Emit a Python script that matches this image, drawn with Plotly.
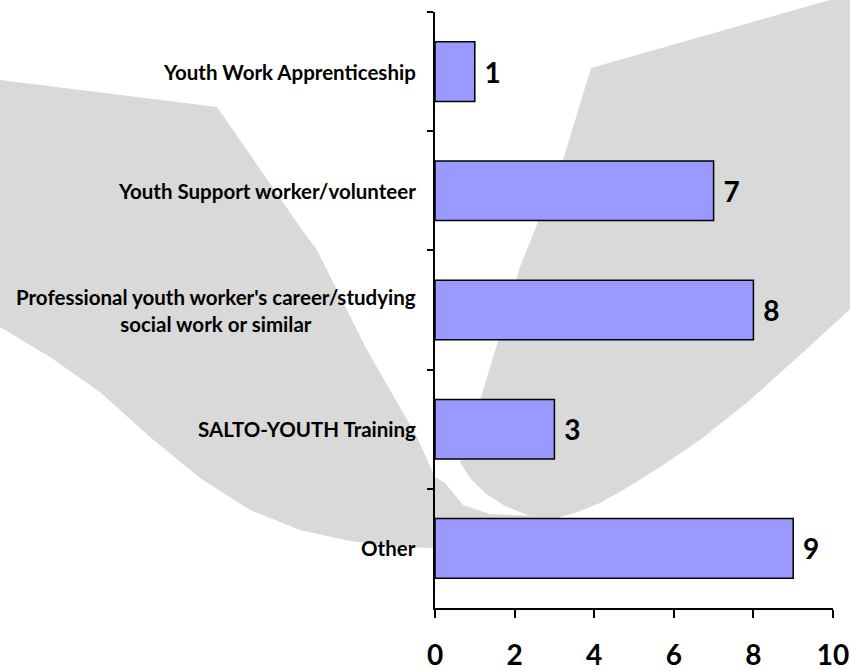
import plotly.graph_objects as go

# ---- data ----
categories = [
    "Youth Work Apprenticeship",
    "Youth Support worker/volunteer",
    "Professional youth worker's career/studying<br>social work or similar",
    "SALTO-YOUTH Training",
    "Other",
]
values = [1, 7, 8, 3, 9]
x_ticks = [0, 2, 4, 6, 8, 10]

# ---- layout geometry (pixels of the 850x670 page) ----
W, H = 850, 670
L, R, T, B = 435, 833, 12, 608

def to_paper(pts):
    return [((x - L) / (R - L), (B - y) / (B - T)) for x, y in pts]

def path_of(pts):
    pp = to_paper(pts)
    s = "M %.4f %.4f " % pp[0]
    s += " ".join("L %.4f %.4f" % p for p in pp[1:])
    return s + " Z"

# decorative background swooshes (pixel outlines)
left_swoosh = [(0, 80), (217, 107), (300, 227), (317, 250), (367, 350), (417, 437),
               (435, 477), (445, 483), (463, 505), (490, 514), (560, 517), (560, 545),
               (433, 548), (400, 547), (350, 541), (300, 530), (250, 510), (200, 478),
               (150, 437), (100, 392), (50, 357), (0, 327)]
right_swoosh = [(591, 68), (830, 0), (860, 0), (860, 300), (800, 355), (750, 400),
                (700, 440), (660, 467), (630, 486), (600, 503), (575, 513), (555, 518),
                (530, 516), (505, 506), (485, 493), (470, 478), (460, 462),
                (468, 440), (480, 400), (500, 335), (520, 267), (564, 157)]

num_font = dict(family="Lato", size=28, color="black", weight="bold")
cat_font = dict(family="Lato", size=20.5, color="black", weight="bold")

fig = go.Figure()
fig.add_trace(go.Bar(
    x=values, y=categories, orientation="h",
    marker=dict(color="#9999FF", line=dict(color="black", width=1.5)),
    text=values, texttemplate=" %{x}", textposition="outside",
    textfont=num_font, cliponaxis=False, hoverinfo="skip",
))

for shp in (left_swoosh, right_swoosh):
    fig.add_shape(type="path", path=path_of(shp), xref="paper", yref="paper",
                  fillcolor="#D9D9D9", line=dict(width=0), layer="below")

for cat in categories:
    fig.add_annotation(x=0, xref="paper", y=cat, yref="y", text=cat,
                       xanchor="right", xshift=-17, align="center",
                       showarrow=False, font=cat_font)

fig.update_layout(
    width=W, height=H,
    margin=dict(l=L, r=W - R, t=T, b=H - B, autoexpand=False),
    paper_bgcolor="white", plot_bgcolor="rgba(0,0,0,0)",
    bargap=0.5, showlegend=False,
    xaxis=dict(range=[0, 10], tickvals=x_ticks, ticks="outside", ticklen=8,
               tickwidth=1.5, tickcolor="black", showline=True, linecolor="black",
               linewidth=1.5, showgrid=False, zeroline=False, tickfont=num_font,
               ticklabelstandoff=14, automargin=False),
    yaxis=dict(type="category", autorange="reversed", showline=True, linecolor="black",
               linewidth=1.5, ticks="outside", ticklen=6, tickwidth=1.5, tickcolor="black",
               tickson="boundaries", showticklabels=False, showgrid=False, zeroline=False,
               automargin=False),
)

fig.write_html("out.html", config={"displayModeBar": False},
               post_script="document.body.style.margin='0';document.body.style.overflow='hidden';")
